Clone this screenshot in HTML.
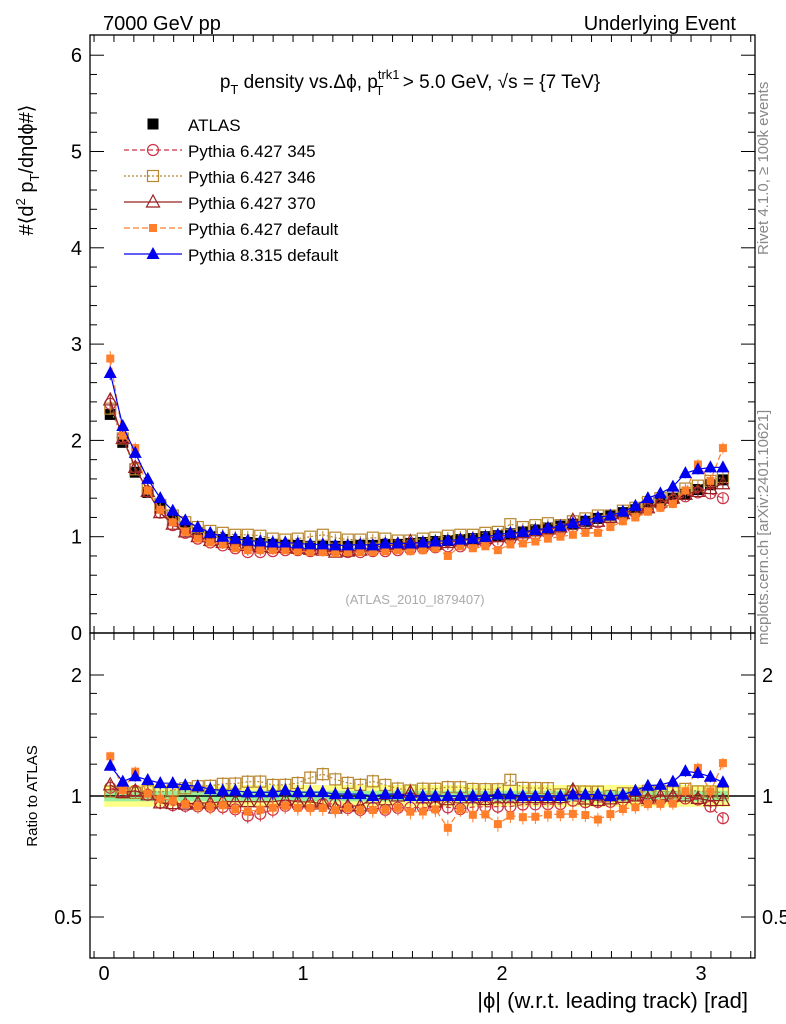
<!DOCTYPE html>
<html><head><meta charset="utf-8">
<style>
body{margin:0;background:#fff;}
svg{display:block;font-family:"Liberation Sans",Arial,sans-serif;}
</style></head>
<body>
<svg id="c" width="786" height="1024" xmlns="http://www.w3.org/2000/svg">
<text x="103" y="30" font-size="20">7000 GeV pp</text>
<text x="736" y="30" font-size="20" text-anchor="end">Underlying Event</text>
<text x="410" y="88" font-size="19" text-anchor="middle">p<tspan font-size="13" dy="6">T</tspan><tspan dy="-6"> density vs.Δϕ, p</tspan><tspan font-size="13" dy="-9">trk1</tspan><tspan font-size="13" dx="-24" dy="16">T</tspan><tspan dx="14" dy="-7"> &gt; 5.0 GeV, √s = {7 TeV}</tspan></text>
<text transform="translate(768,645) rotate(-90)" font-size="15" fill="#888">mcplots.cern.ch [arXiv:2401.10621]</text>
<text transform="translate(768,255) rotate(-90)" font-size="15" fill="#888">Rivet 4.1.0, ≥ 100k events</text>
<text x="415" y="604" font-size="13" fill="#aaa" text-anchor="middle">(ATLAS_2010_I879407)</text>
<text transform="translate(33,170) rotate(-90)" font-size="20" text-anchor="middle">#⟨d<tspan font-size="13" dy="-8">2</tspan><tspan dy="8"> p</tspan><tspan font-size="13" dy="6">T</tspan><tspan dy="-6">/dηdϕ#⟩</tspan></text>
<text transform="translate(37,796) rotate(-90)" font-size="15" text-anchor="middle">Ratio to ATLAS</text>
<text x="748" y="1008" font-size="22" text-anchor="end">|ϕ| (w.r.t. leading track) [rad]</text>
<g id="g"></g>
</svg>
<script>
const atlas=[2.27,1.98,1.67,1.46,1.30,1.18,1.10,1.04,1.00,0.97,0.95,0.94,0.93,0.92,0.91,0.91,0.90,0.90,0.90,0.90,0.91,0.91,0.92,0.92,0.93,0.94,0.95,0.96,0.97,0.98,1.00,1.01,1.03,1.05,1.07,1.09,1.11,1.13,1.16,1.19,1.22,1.25,1.28,1.32,1.36,1.40,1.44,1.49,1.54,1.59];
const py345=[2.38,2.03,1.72,1.47,1.25,1.12,1.04,0.98,0.94,0.91,0.88,0.84,0.84,0.85,0.86,0.86,0.85,0.86,0.86,0.84,0.84,0.85,0.85,0.86,0.87,0.88,0.89,0.90,0.90,0.92,0.94,0.95,0.97,1.00,1.02,1.04,1.06,1.10,1.12,1.15,1.18,1.22,1.25,1.29,1.33,1.38,1.42,1.46,1.45,1.40];
const py346=[2.33,2.02,1.70,1.50,1.33,1.22,1.15,1.10,1.06,1.04,1.02,1.02,1.01,0.98,0.97,0.98,1.00,1.02,0.99,0.97,0.97,0.99,0.98,0.96,0.96,0.98,0.99,1.01,1.02,1.02,1.04,1.05,1.13,1.10,1.12,1.14,1.12,1.16,1.19,1.22,1.22,1.27,1.30,1.36,1.40,1.43,1.50,1.53,1.58,1.62];
const py370=[2.42,2.02,1.72,1.47,1.25,1.13,1.05,1.00,0.96,0.94,0.92,0.91,0.90,0.89,0.89,0.88,0.87,0.86,0.84,0.85,0.86,0.90,0.90,0.92,0.95,0.93,0.92,0.94,0.96,0.97,0.98,1.00,1.02,1.04,1.06,1.08,1.10,1.17,1.14,1.16,1.20,1.24,1.28,1.30,1.36,1.40,1.44,1.47,1.50,1.55];
const py6def=[2.85,2.05,1.92,1.48,1.28,1.15,1.05,0.98,0.94,0.92,0.88,0.86,0.86,0.86,0.86,0.85,0.84,0.84,0.83,0.84,0.84,0.84,0.85,0.86,0.85,0.86,0.88,0.80,0.90,0.88,0.90,0.86,0.92,0.93,0.95,0.98,1.00,1.02,1.04,1.04,1.10,1.16,1.20,1.26,1.30,1.34,1.48,1.75,1.58,1.92];
const py8def=[2.70,2.15,1.87,1.60,1.40,1.27,1.17,1.10,1.04,1.00,0.98,0.96,0.95,0.94,0.94,0.93,0.92,0.92,0.91,0.91,0.92,0.91,0.93,0.93,0.93,0.94,0.95,0.96,0.97,0.98,1.00,1.02,1.04,1.05,1.07,1.09,1.11,1.14,1.17,1.20,1.22,1.26,1.32,1.40,1.45,1.52,1.66,1.70,1.72,1.72];
const xTicks=[0,1,2,3];
const yTicks=[0,1,2,3,4,5,6];
const rTicks=[0.5,1,2];
const NS="http://www.w3.org/2000/svg";
const g=document.getElementById('g');
const L=90,R=755,T=35,MB=633,RB=958;
const X=v=>104+v*199;
const Y=v=>633-v*96.3;
const RY=v=>796-Math.log2(v)*121;
function el(t,a,p){const e=document.createElementNS(NS,t);for(const k in a)e.setAttribute(k,a[k]);(p||g).appendChild(e);return e;}
const xs=atlas.map((_,i)=>(i+0.5)*Math.PI/50);
let b=el('rect',{x:X(xs[0])-6,y:RY(1.065),width:X(xs[49])-X(xs[0])+12,height:RY(0.94)-RY(1.065),fill:'#ffff88'});

b=el('rect',{x:X(xs[0])-6,y:RY(1.03),width:X(xs[49])-X(xs[0])+12,height:RY(0.97)-RY(1.03),fill:'#99ee99'});

el('line',{x1:L,x2:R,y1:RY(1),y2:RY(1),stroke:'#000','stroke-width':1.5});
let f=el('rect',{x:L,y:T,width:R-L,height:MB-T,fill:'none',stroke:'#000','stroke-width':1.3});

f=el('rect',{x:L,y:MB,width:R-L,height:RB-MB,fill:'none',stroke:'#000','stroke-width':1.3});

for(let v=-0.05;v<=3.26;v+=0.1){const m=Math.abs(v-Math.round(v))<0.01;const l=m?14:7;const x=X(v);
[T,MB].forEach(y0=>el('line',{x1:x,x2:x,y1:y0,y2:y0+l,stroke:'#000'}));
[MB,RB].forEach(y0=>el('line',{x1:x,x2:x,y1:y0,y2:y0-l,stroke:'#000'}));}
xTicks.forEach(v=>{const t=el('text',{x:X(v),y:980,'font-size':20,'text-anchor':'middle'});t.textContent=v;
});
for(let v=0;v<=6.2;v+=0.2){const m=Math.abs(v-Math.round(v))<0.01;const l=m?14:7;const y=Y(v);if(y<T)continue;
el('line',{x1:L,x2:L+l,y1:y,y2:y,stroke:'#000'});el('line',{x1:R,x2:R-l,y1:y,y2:y,stroke:'#000'});}
yTicks.forEach(v=>{const t=el('text',{x:82,y:Y(v)+7,'font-size':20,'text-anchor':'end'});t.textContent=v;
});
[0.5,0.6,0.7,0.8,0.9,1,1.2,1.4,1.6,1.8,2].forEach(v=>{const m=rTicks.includes(v);const l=m?14:7;const y=RY(v);
el('line',{x1:L,x2:L+l,y1:y,y2:y,stroke:'#000'});el('line',{x1:R,x2:R-l,y1:y,y2:y,stroke:'#000'});});
rTicks.forEach(v=>{[[82,'end'],[762,'start']].forEach(([x,a])=>{const t=el('text',{x:x,y:RY(v)+7,'font-size':20,'text-anchor':a});t.textContent=v;
});});
function marker(par,type,x,y,c){
 if(type==='sq')el('rect',{x:x-5.5,y:y-5.5,width:11,height:11,fill:c},par);
 else if(type==='osq')el('rect',{x:x-5.5,y:y-5.5,width:11,height:11,fill:'none',stroke:c,'stroke-width':1.2},par);
 else if(type==='oc')el('circle',{cx:x,cy:y,r:5.5,fill:'none',stroke:c,'stroke-width':1.2},par);
 else if(type==='ot')el('polygon',{points:`${x},${y-7} ${x-6.5},${y+5} ${x+6.5},${y+5}`,fill:'none',stroke:c,'stroke-width':1.2},par);
 else if(type==='fsq')el('rect',{x:x-4,y:y-4,width:8,height:8,fill:c},par);
 else if(type==='ft')el('polygon',{points:`${x},${y-7} ${x-6.5},${y+5} ${x+6.5},${y+5}`,fill:c},par);
}
const series=[
 {n:'pythia-6427-345',d:py345,c:'#cc3344',m:'oc',dash:'5,3',lab:'Pythia 6.427 345'},
 {n:'pythia-6427-346',d:py346,c:'#b8862e',m:'osq',dash:'2,2',lab:'Pythia 6.427 346'},
 {n:'pythia-6427-370',d:py370,c:'#992222',m:'ot',dash:'',lab:'Pythia 6.427 370'},
 {n:'pythia-6427-default',d:py6def,c:'#ff7f2a',m:'fsq',dash:'6,3',lab:'Pythia 6.427 default'},
 {n:'pythia-8315-default',d:py8def,c:'#0000ee',m:'ft',dash:'',lab:'Pythia 8.315 default'}];
const ga=el('g',{});
atlas.forEach((v,i)=>marker(ga,'sq',X(xs[i]),Y(v),'#000'));
series.forEach(s=>{
 const gs=el('g',{});
 const gr=el('g',{});
 let p='',pr='';
 s.d.forEach((v,i)=>{const x=X(xs[i]);p+=(i?'L':'M')+x+','+Y(v);pr+=(i?'L':'M')+x+','+RY(v/atlas[i]);});
 el('path',{d:p,fill:'none',stroke:s.c,'stroke-width':1.2,'stroke-dasharray':s.dash},gs);
 el('path',{d:pr,fill:'none',stroke:s.c,'stroke-width':1.2,'stroke-dasharray':s.dash},gr);
 s.d.forEach((v,i)=>{const x=X(xs[i]);const e=0.02*v+0.02;const r=v/atlas[i];
  el('line',{x1:x,x2:x,y1:Y(v+e),y2:Y(v-e),stroke:s.c},gs);
  el('line',{x1:x,x2:x,y1:RY(r*(1+e/v)),y2:RY(r*(1-e/v)),stroke:s.c},gr);
  marker(gs,s.m,x,Y(v),s.c);marker(gr,s.m,x,RY(r),s.c);});
});
const lg=el('g',{});
marker(lg,'sq',153,124,'#000');
let t=el('text',{x:188,y:131,'font-size':17},lg);t.textContent='ATLAS';
series.forEach((s,k)=>{const y=124+26*(k+1);
 const e=el('g',{},lg);
 el('line',{x1:124,x2:182,y1:y,y2:y,stroke:s.c,'stroke-width':1.2,'stroke-dasharray':s.dash},e);
 marker(e,s.m,153,y,s.c);
 const tt=el('text',{x:188,y:y+7,'font-size':17},e);tt.textContent=s.lab;});
</script>
</body></html>
